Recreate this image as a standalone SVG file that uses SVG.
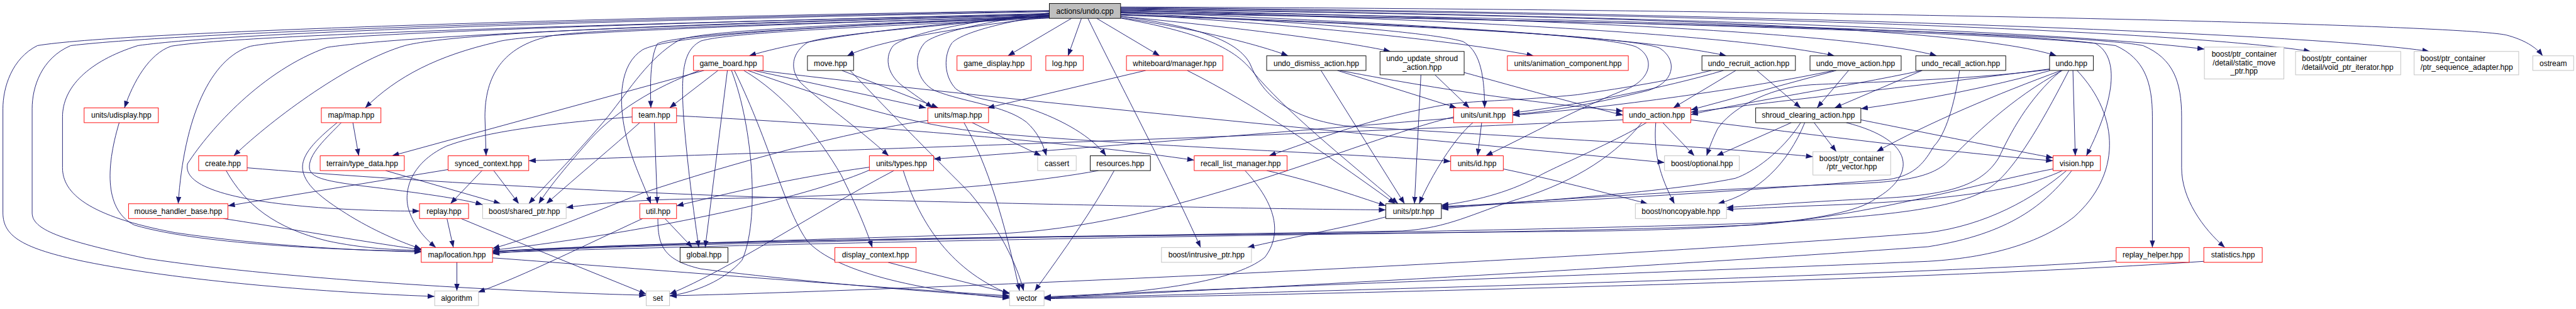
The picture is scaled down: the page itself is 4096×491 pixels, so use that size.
<svg xmlns="http://www.w3.org/2000/svg" width="4096" height="491" viewBox="0 0 4096 491">
<style>
.r{fill:#fff;stroke:#ff0000;stroke-width:1}
.k{fill:#fff;stroke:#000;stroke-width:1}
.g{fill:#fff;stroke:#bfbfbf;stroke-width:1}
.t{fill:#bfbfbf;stroke:#000;stroke-width:1}
text{font-family:"Liberation Sans",Arial,Helvetica,sans-serif;font-size:13px;text-anchor:middle;fill:#000}
text.la{text-anchor:start}
#edges path{fill:none;stroke:#191970;stroke-width:1;marker-end:url(#arr)}
</style>
<defs>
<marker id="arr" markerUnits="userSpaceOnUse" markerWidth="12" markerHeight="9" refX="12" refY="4.5" orient="auto">
<path d="M0,0 L12,4.5 L0,9 z" fill="#191970"/>
</marker>
</defs>
<rect x="0" y="0" width="4096" height="491" fill="#fff"/>
<g transform="scale(0.929)">
<g id="edges">
<path d="M1796,24 C 1100,40 420,58 293,79 C 255,92 228,140 213,184.5"/>
<path d="M1796,25 C 1200,40 780,55 693,78 C 600,105 470,200 400,266.5"/>
<path d="M1796,23 C 1200,38 560,55 429,79 C 360,100 315,200 305,348.5"/>
<path d="M1796,18 C 1000,30 200,55 64,78 C 20,100 5,150 5,186 L 5,364 C 5,405 40,425 143,447 C 330,485 600,502 744,507"/>
<path d="M1796,19 C 1000,33 320,55 121,78 C 70,100 55,150 55,186 L 55,364 C 55,392 100,410 250,442 C 500,480 900,500 1106,505"/>
<path d="M1796,20 C 1000,36 400,55 236,78 C 150,105 107,150 107,200 L 107,287 C 107,330 150,370 300,398 C 450,420 600,428 721,431"/>
<path d="M1796,26 C 1200,40 700,60 560,81 C 450,120 360,220 321,280 C 312,320 400,345 560,356 C 640,361 690,361 718,361"/>
<path d="M1796,27 C 1400,40 900,55 850,72 C 750,95 680,130 625,184.5"/>
<path d="M1796,28 C 1300,42 1000,50 940,62 C 860,80 830,130 830,200 L 832,266.5"/>
<path d="M1796,29 C 1400,42 1180,55 1160,70 C 1110,100 1080,150 1040,200 C 990,260 940,310 905,348.5"/>
<path d="M1796,30 C 1400,44 1150,60 1100,85 C 1060,110 1060,170 1068,215 C 1078,270 1100,310 1114,348.5"/>
<path d="M1796,28 C 1400,45 1150,60 1125,75 C 1112,100 1113,150 1114,184.5"/>
<path d="M1796,31 C 1500,45 1250,55 1200,70 C 1170,85 1165,120 1170,200 C 1178,300 1190,380 1196,423.4"/>
<path d="M1796,27 C 1600,40 1400,60 1282,95.5"/>
<path d="M1797,29 C 1650,45 1500,70 1450,95.5"/>
<path d="M1834,31.4 L 1725,95.5"/>
<path d="M1851,31.4 L 1828,95.5"/>
<path d="M1877,31.4 L 1985,95.5"/>
<path d="M1862,31.4 C 1920,150 2000,300 2055,423.4"/>
<path d="M1796,22 C 1700,35 1600,55 1582,74 C 1560,100 1570,140 1600,155 C 1650,175 1720,180 1757,209 C 1775,225 1785,245 1791,266.5"/>
<path d="M1796,26 C 1700,40 1640,60 1629,74 C 1615,95 1615,130 1636,152 C 1660,170 1720,175 1760,185 C 1820,205 1870,235 1893,266.5"/>
<path d="M1796,23 C 1650,35 1550,60 1529,78 C 1515,95 1515,125 1546,148 C 1565,162 1580,172 1596,184.5"/>
<path d="M1918,30 C 2050,50 2150,75 2205,95.5"/>
<path d="M1918,28 C 2100,45 2300,70 2380,88"/>
<path d="M1918,24 C 2200,40 2500,70 2625,95.5"/>
<path d="M1918,22 C 2200,35 2450,55 2504,71 C 2530,85 2541,120 2541,184.5"/>
<path d="M1918,20 C 2300,35 2800,60 2955,95.5"/>
<path d="M1918,18 C 2400,30 2950,55 3140,95.5"/>
<path d="M1918,17 C 2500,28 3150,50 3315,95.5"/>
<path d="M1918,16 C 2600,25 3350,40 3520,95.5"/>
<path d="M1918,15 C 2700,25 3500,50 3773,84"/>
<path d="M1918,14 C 2800,22 3700,48 3955,88"/>
<path d="M1918,13 C 2900,20 3950,55 4158,88"/>
<path d="M1918,12 C 3000,15 4200,40 4290,60 C 4320,68 4340,80 4352,95.5"/>
<path d="M1918,19 C 2600,30 3400,50 3586,74 C 3625,95 3625,160 3571,266.5"/>
<path d="M1918,21 C 2700,35 3450,55 3621,78 C 3670,100 3684,140 3684,200 L 3684,423.4"/>
<path d="M1918,22 C 2800,38 3550,55 3668,78 C 3720,100 3734,140 3734,200 L 3734,287 C 3734,340 3770,390 3808,423.4"/>
<path d="M1796,26 C 1600,45 1400,60 1380,74 C 1350,95 1355,125 1371,142 C 1400,170 1470,220 1521,266.5"/>
<path d="M1918,25 C 2400,40 2750,60 2800,80 C 2830,95 2830,130 2790,150 C 2700,185 2620,230 2543,266.5"/>
<path d="M1918,26 C 2400,42 2790,62 2840,82 C 2870,100 2870,140 2820,155 C 2720,180 2640,192 2589,196"/>
<path d="M1918,31 C 2050,55 2110,80 2143,121 C 2200,190 2300,270 2393,348.5"/>
<path d="M1918,28 C 2050,45 2120,70 2140,110 C 2160,160 2200,200 2300,215 C 2600,235 2900,248 3103,268"/>
<path d="M1205,120.5 L 671,266.5"/>
<path d="M1197,120.5 C 1120,150 1050,190 1000,250 C 965,290 940,320 922,348.5"/>
<path d="M1229,120.5 L 1146,184.5"/>
<path d="M1245,120.5 L 1207,423.4"/>
<path d="M1252,120.5 C 1290,220 1300,380 1270,445 C 1240,480 1190,500 1146,506"/>
<path d="M1257,120.5 C 1320,250 1340,350 1380,410 C 1430,470 1600,500 1728,510"/>
<path d="M1273,120.5 C 1340,160 1400,230 1440,300 C 1465,350 1482,390 1493,423.4"/>
<path d="M1290,120.5 L 1585,184.5"/>
<path d="M1280,120.5 C 1420,170 1560,215 1700,228 C 1950,250 2300,262 2483,276"/>
<path d="M1300,120.5 C 1700,170 2400,235 2849,278"/>
<path d="M1441,120.5 L 1606,184.5"/>
<path d="M1455,120.5 C 1530,200 1610,280 1660,330 C 1710,390 1740,450 1752,497.6"/>
<path d="M1095,209.8 C 1050,250 990,300 935,348.5"/>
<path d="M1120,209.8 L 1125,348.5"/>
<path d="M1082,200 C 950,210 830,225 764,250 C 700,280 690,330 700,360 C 710,390 730,410 746,423.4"/>
<path d="M1158,198 C 1500,215 1850,245 2044,274"/>
<path d="M1664,209.8 L 1782,266.5"/>
<path d="M1650,209.8 C 1690,280 1720,380 1745,497.6"/>
<path d="M1588,206 C 1450,225 1250,280 1100,330 C 1000,370 900,410 843,425"/>
<path d="M1488,286 C 1350,305 1250,330 1158,352"/>
<path d="M1530,291.8 C 1400,360 1250,460 1146,503"/>
<path d="M1546,291.8 C 1570,370 1620,460 1728,503"/>
<path d="M1488,291 C 1350,350 1050,405 843,428"/>
<path d="M1907,291.8 C 1870,360 1820,430 1771,497.6"/>
<path d="M1880,291.8 C 1700,325 1400,338 1200,340 C 1100,341 1020,348 969,355"/>
<path d="M2168,291.8 C 2250,310 2320,335 2372,352"/>
<path d="M2131,291.8 C 2185,350 2195,400 2165,440 C 2110,485 1950,502 1787,509"/>
<path d="M2536,209.8 L 2529,266.5"/>
<path d="M2521,209.8 C 2490,235 2450,300 2429,348.5"/>
<path d="M2488,202 C 2200,225 1800,258 1598,272"/>
<path d="M2488,200 C 2320,240 2000,390 1700,400 C 1400,410 1000,420 843,430"/>
<path d="M3514,289 C 3400,310 3200,370 3000,385 C 2600,400 2200,400 2000,402 C 1500,408 1000,418 843,434"/>
<path d="M3537,291.8 C 3480,340 3400,385 3300,398 C 2700,445 1600,495 1146,506"/>
<path d="M3546,291.8 C 3500,350 3440,400 3300,422 C 2700,465 2000,500 1787,510"/>
<path d="M3530,291.8 C 3450,330 3300,345 3100,352 C 3030,355 2990,357 2955,358"/>
<path d="M3508,118 C 3300,145 3050,172 2894,192"/>
<path d="M3508,121 C 3400,150 3300,170 3185,186"/>
<path d="M3548,120.5 L 3552,266.5"/>
<path d="M3528,120.5 C 3420,160 3300,210 3212,259.4"/>
<path d="M3508,119 C 3350,138 3200,140 3100,145 C 3020,150 2960,190 2940,220 C 2930,240 2925,255 2921,266.5"/>
<path d="M3530,120.5 C 3440,170 3380,230 3330,280 C 3300,305 3250,312 3150,315 C 2900,325 2600,345 2467,355"/>
<path d="M3528,120.5 C 3470,170 3440,230 3421,270 C 3390,320 3330,335 3200,340 C 3100,345 3000,352 2955,355"/>
<path d="M3541,120.5 C 3500,200 3450,290 3407,320 C 3350,360 3200,372 3000,382 C 2400,400 1800,405 1600,408 C 1300,412 1000,420 843,431"/>
<path d="M3555,120.5 C 3630,200 3630,300 3550,371 C 3500,410 3420,440 3300,447 C 2800,468 2000,496 1787,508"/>
<path d="M2846,209.8 L 2900,266.5"/>
<path d="M2834,209.8 C 2830,260 2840,300 2866,348.5"/>
<path d="M2818,209.8 C 2760,245 2650,290 2629,304 C 2580,330 2520,345 2467,351"/>
<path d="M2810,209.8 C 2770,260 2700,310 2600,340 C 2520,365 2480,390 2400,395 C 2000,402 1300,412 843,430"/>
<path d="M2894,205 C 3100,230 3350,262 3514,275"/>
<path d="M2778,205 C 2000,240 1200,265 905,275"/>
<path d="M3066,209.8 L 2938,266.5"/>
<path d="M3105,209.8 L 3143,259.4"/>
<path d="M3089,209.8 C 3060,280 3010,330 2940,348.5"/>
<path d="M3082,209.8 C 3050,260 3000,295 2970,305 C 2850,330 2600,345 2467,357"/>
<path d="M3160,209.8 C 3280,240 3280,300 3210,340 C 3150,385 2900,392 2750,395 C 2000,402 1200,420 843,432"/>
<path d="M3185,205 C 3300,228 3450,258 3514,270"/>
<path d="M2573,289 C 2650,305 2750,330 2820,348.5"/>
<path d="M2372,371 C 2300,390 2200,408 2135,423.4"/>
<path d="M2971,120.5 L 2864,184.5"/>
<path d="M3007,120.5 L 3082,184.5"/>
<path d="M2929,120.5 C 2850,140 2760,153 2700,162 C 2600,172 2530,172 2480,178 C 2350,200 2250,240 2172,266.5"/>
<path d="M2950,120.5 C 2850,150 2700,180 2589,193"/>
<path d="M3143,120.5 L 2894,188"/>
<path d="M3164,120.5 L 3110,184.5"/>
<path d="M3139,120.5 C 3000,150 2750,185 2589,197"/>
<path d="M3290,120.5 C 3150,150 3000,172 2894,196"/>
<path d="M3290,120.5 L 3140,184.5"/>
<path d="M3354,120.5 C 3345,180 3330,230 3310,250 C 3295,275 3280,300 3232,307 C 3000,325 2700,345 2467,353"/>
<path d="M2261,120.5 L 2404,348.5"/>
<path d="M2289,120.5 L 2493,184.5"/>
<path d="M2293,120.5 C 2500,160 2650,178 2778,190"/>
<path d="M2432,128 L 2421,348.5"/>
<path d="M2456,128 L 2515,184.5"/>
<path d="M2506,124 C 2600,150 2700,178 2778,197"/>
<path d="M1961,120.5 L 1690,184.5"/>
<path d="M2032,120.5 C 2150,180 2250,250 2388,348.5"/>
<path d="M604,209.8 L 614,266.5"/>
<path d="M577,209.8 C 540,240 515,265 518,290 C 522,320 560,345 600,370 C 650,400 690,415 721,426"/>
<path d="M584,209.8 C 560,235 525,265 530,290 C 535,305 560,310 620,318 C 720,330 790,340 826,350"/>
<path d="M825,291.8 L 771,348.5"/>
<path d="M845,291.8 L 888,348.5"/>
<path d="M767,290 L 390,352"/>
<path d="M660,291.8 L 857,348.5"/>
<path d="M765,373.8 L 776,423.4"/>
<path d="M789,373.8 C 900,420 1000,460 1106,503"/>
<path d="M782,448.7 L 782,497.6"/>
<path d="M843,441 C 1100,460 1500,492 1728,506"/>
<path d="M1138,373.8 L 1185,423.4"/>
<path d="M1100,373.8 C 1000,420 900,470 818,500"/>
<path d="M1126,373.8 C 1126,420 1135,445 1200,460 C 1400,485 1600,500 1728,508"/>
<path d="M1520,448.7 C 1600,470 1680,490 1728,501"/>
<path d="M387,291.8 C 420,350 470,390 560,412 C 620,425 680,428 721,428"/>
<path d="M423,287 C 700,310 1100,332 1400,340 C 1800,350 2200,358 2372,359"/>
<path d="M382,373.8 C 500,392 650,418 721,427"/>
<path d="M204,209.8 C 180,290 180,360 230,385 C 350,420 600,428 721,430"/>
<path d="M3622,446 C 3300,470 2200,500 1787,510"/>
<path d="M3772,447 C 3300,480 2200,505 1787,511"/>
</g>
<g id="n_actions_undo_cpp"><rect class="t" x="1796" y="6" width="122" height="25.4"/><text x="1857" y="23.2">actions/undo.cpp</text></g>
<g id="n_game_board"><rect class="r" x="1187" y="95.5" width="119" height="25"/><text x="1246.5" y="112.6">game_board.hpp</text></g>
<g id="n_move"><rect class="k" x="1382" y="95.5" width="79" height="25"/><text x="1421.5" y="112.6">move.hpp</text></g>
<g id="n_game_display"><rect class="r" x="1638" y="95.5" width="127" height="25"/><text x="1701.5" y="112.6">game_display.hpp</text></g>
<g id="n_log"><rect class="r" x="1790" y="95.5" width="64" height="25"/><text x="1822" y="112.6">log.hpp</text></g>
<g id="n_whiteboard_manager"><rect class="r" x="1928" y="95.5" width="165" height="25"/><text x="2010.5" y="112.6">whiteboard/manager.hpp</text></g>
<g id="n_undo_dismiss_action"><rect class="k" x="2168" y="95.5" width="170" height="25"/><text x="2253" y="112.6">undo_dismiss_action.hpp</text></g>
<g id="n_undo_update_shroud_action"><rect class="k" x="2362" y="88" width="144" height="40"/><text x="2434" y="104">undo_update_shroud</text><text x="2434" y="119">_action.hpp</text></g>
<g id="n_units_animation_component"><rect class="r" x="2580" y="95.5" width="207" height="25"/><text x="2683.5" y="112.6">units/animation_component.hpp</text></g>
<g id="n_undo_recruit_action"><rect class="k" x="2913" y="95.5" width="160" height="25"/><text x="2993" y="112.6">undo_recruit_action.hpp</text></g>
<g id="n_undo_move_action"><rect class="k" x="3098" y="95.5" width="156" height="25"/><text x="3176" y="112.6">undo_move_action.hpp</text></g>
<g id="n_undo_recall_action"><rect class="k" x="3279" y="95.5" width="154" height="25"/><text x="3356" y="112.6">undo_recall_action.hpp</text></g>
<g id="n_undo_hpp"><rect class="k" x="3508" y="95.5" width="75" height="25"/><text x="3545.5" y="112.6">undo.hpp</text></g>
<g id="n_static_move_ptr"><rect class="g" x="3773" y="80.6" width="136" height="54.4"/><text x="3841" y="97.4">boost/ptr_container</text><text x="3841" y="111.6">/detail/static_move</text><text x="3841" y="126">_ptr.hpp</text></g>
<g id="n_void_ptr_iterator"><rect class="g" x="3929" y="88" width="180" height="40"/><text class="la" x="3940" y="104">boost/ptr_container</text><text class="la" x="3940" y="119">/detail/void_ptr_iterator.hpp</text></g>
<g id="n_ptr_sequence_adapter"><rect class="g" x="4132" y="88" width="179" height="40"/><text class="la" x="4143" y="104">boost/ptr_container</text><text class="la" x="4143" y="119">/ptr_sequence_adapter.hpp</text></g>
<g id="n_ostream"><rect class="g" x="4335" y="95.5" width="70" height="25"/><text x="4370" y="112.6">ostream</text></g>
<g id="n_units_udisplay"><rect class="r" x="144" y="184.5" width="127" height="25.3"/><text x="207.5" y="201.8">units/udisplay.hpp</text></g>
<g id="n_map_map"><rect class="r" x="550" y="184.5" width="102" height="25.3"/><text x="601" y="201.8">map/map.hpp</text></g>
<g id="n_team"><rect class="r" x="1082" y="184.5" width="76" height="25.3"/><text x="1120" y="201.8">team.hpp</text></g>
<g id="n_units_map"><rect class="r" x="1588" y="184.5" width="104" height="25.3"/><text x="1640" y="201.8">units/map.hpp</text></g>
<g id="n_units_unit"><rect class="r" x="2488" y="184.5" width="101" height="25.3"/><text x="2538.5" y="201.8">units/unit.hpp</text></g>
<g id="n_undo_action"><rect class="r" x="2778" y="184.5" width="116" height="25.3"/><text x="2836" y="201.8">undo_action.hpp</text></g>
<g id="n_shroud_clearing_action"><rect class="k" x="3005" y="184.5" width="180" height="25.3"/><text x="3095" y="201.8">shroud_clearing_action.hpp</text></g>
<g id="n_create"><rect class="r" x="340" y="266.5" width="83" height="25.3"/><text x="381.5" y="283.8">create.hpp</text></g>
<g id="n_terrain_type_data"><rect class="r" x="548" y="266.5" width="144" height="25.3"/><text x="620" y="283.8">terrain/type_data.hpp</text></g>
<g id="n_synced_context"><rect class="r" x="767" y="266.5" width="138" height="25.3"/><text x="836" y="283.8">synced_context.hpp</text></g>
<g id="n_units_types"><rect class="r" x="1488" y="266.5" width="110" height="25.3"/><text x="1543" y="283.8">units/types.hpp</text></g>
<g id="n_cassert"><rect class="g" x="1776" y="266.5" width="66" height="25.3"/><text x="1809" y="283.8">cassert</text></g>
<g id="n_resources"><rect class="k" x="1866" y="266.5" width="103" height="25.3"/><text x="1917.5" y="283.8">resources.hpp</text></g>
<g id="n_recall_list_manager"><rect class="r" x="2044" y="266.5" width="159" height="25.3"/><text x="2123.5" y="283.8">recall_list_manager.hpp</text></g>
<g id="n_units_id"><rect class="r" x="2483" y="266.5" width="90" height="25.3"/><text x="2528" y="283.8">units/id.hpp</text></g>
<g id="n_boost_optional"><rect class="g" x="2849" y="266.5" width="128" height="25.3"/><text x="2913" y="283.8">boost/optional.hpp</text></g>
<g id="n_ptr_vector"><rect class="g" x="3103" y="259.4" width="133" height="40"/><text x="3169.5" y="275.5">boost/ptr_container</text><text x="3169.5" y="290">/ptr_vector.hpp</text></g>
<g id="n_vision"><rect class="r" x="3514" y="266.5" width="81" height="25.3"/><text x="3554.5" y="283.8">vision.hpp</text></g>
<g id="n_mouse_handler_base"><rect class="r" x="220" y="348.5" width="170" height="25.3"/><text x="305" y="365.8">mouse_handler_base.hpp</text></g>
<g id="n_replay"><rect class="r" x="718" y="348.5" width="84" height="25.3"/><text x="760" y="365.8">replay.hpp</text></g>
<g id="n_boost_shared_ptr"><rect class="g" x="826" y="348.5" width="143" height="25.3"/><text x="897.5" y="365.8">boost/shared_ptr.hpp</text></g>
<g id="n_util"><rect class="r" x="1095" y="348.5" width="63" height="25.3"/><text x="1126.5" y="365.8">util.hpp</text></g>
<g id="n_units_ptr"><rect class="k" x="2372" y="348.5" width="95" height="25.3"/><text x="2419.5" y="365.8">units/ptr.hpp</text></g>
<g id="n_boost_noncopyable"><rect class="g" x="2799" y="348.5" width="156" height="25.3"/><text x="2877" y="365.8">boost/noncopyable.hpp</text></g>
<g id="n_map_location"><rect class="r" x="721" y="423.4" width="122" height="25.3"/><text x="782" y="440.7">map/location.hpp</text></g>
<g id="n_global"><rect class="k" x="1164" y="423.4" width="82" height="25.3"/><text x="1205" y="440.7">global.hpp</text></g>
<g id="n_display_context"><rect class="r" x="1429" y="423.4" width="139" height="25.3"/><text x="1498.5" y="440.7">display_context.hpp</text></g>
<g id="n_boost_intrusive_ptr"><rect class="g" x="1988" y="423.4" width="154" height="25.3"/><text x="2065" y="440.7">boost/intrusive_ptr.hpp</text></g>
<g id="n_replay_helper"><rect class="r" x="3622" y="423.4" width="125" height="25.3"/><text x="3684.5" y="440.7">replay_helper.hpp</text></g>
<g id="n_statistics"><rect class="r" x="3772" y="423.4" width="100" height="25.3"/><text x="3822" y="440.7">statistics.hpp</text></g>
<g id="n_algorithm"><rect class="g" x="744" y="497.6" width="75" height="25.3"/><text x="781.5" y="514.9">algorithm</text></g>
<g id="n_set"><rect class="g" x="1106" y="497.6" width="40" height="25.3"/><text x="1126" y="514.9">set</text></g>
<g id="n_vector"><rect class="g" x="1728" y="497.6" width="59" height="25.3"/><text x="1757.5" y="514.9">vector</text></g>
</g>
</svg>
